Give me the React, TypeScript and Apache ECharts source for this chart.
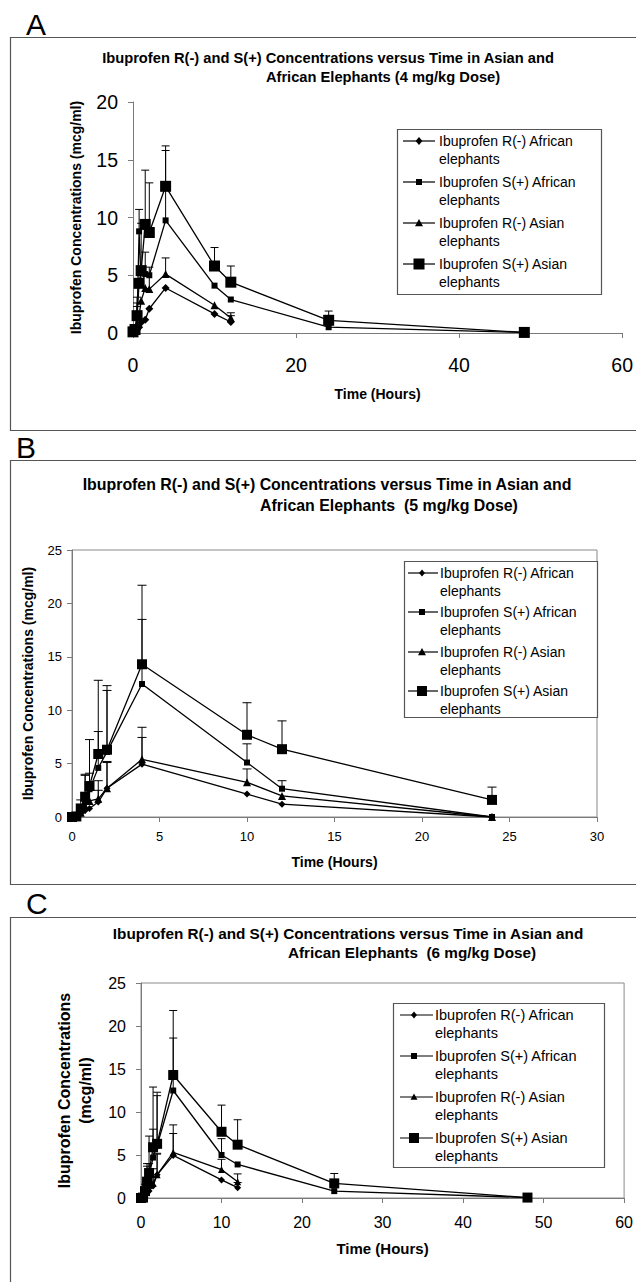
import React, { useEffect, useRef } from "react";
import * as echarts from "echarts";

const FONT = "'Liberation Sans', Arial, Helvetica, sans-serif";

// ---------- DATA ----------
const legendLine1 = [
  "Ibuprofen R(-) African",
  "Ibuprofen S(+) African",
  "Ibuprofen R(-) Asian",
  "Ibuprofen S(+) Asian",
];
const legendLine2 = ["elephants", "elephants", "elephants", "elephants"];

// Panel A (4 mg/kg)
const hoursA = [0, 0.25, 0.5, 0.75, 1, 1.5, 2, 4, 10, 12, 24, 48];
const rAfrA = [0, 0.1, 0.3, 0.5, 0.9, 1.15, 2.1, 3.9, 1.65, 0.95];
const sAfrA = [0, 0.4, 1.3, 8.8, 4.2, 5.1, 5.0, 9.75, 4.1, 2.9, 0.5, 0.05];
const rAsiA = [0, 0.2, 0.7, 1.5, 2.8, 3.9, 3.8, 5.1, 2.4, 1.3];
const sAsiA = [0.1, 0.3, 1.5, 4.3, 5.4, 9.4, 8.7, 12.7, 5.8, 4.4, 1.1, 0.05];
const rAfrAUp = [null, null, 2.6, null, null, null, null, null, null, 1.5];
const sAfrAUp = [null, null, 3.1, 10.7, null, 7.0, null, 15.8, null, null, null, null];
const rAsiAUp = [null, null, null, null, null, null, 5.7, 6.5, null, 1.75];
const sAsiAUp = [null, null, 2.3, null, 9.5, 14.1, 13.0, 16.2, 7.4, 5.8, 1.9, null];

// Panel B (5 mg/kg)
const hoursB = [0, 0.25, 0.5, 0.75, 1, 1.5, 2, 4, 10, 12, 24];
const rAfrB = [0, 0.05, 0.3, 0.6, 0.8, 1.4, 2.7, 4.95, 2.15, 1.2, 0];
const sAfrB = [0, 0.1, 0.6, 1.5, 2.6, 4.6, 6.1, 12.45, 5.1, 2.65, 0];
const rAsiB = [0, 0.1, 0.4, 1.0, 1.5, 1.7, 2.7, 5.4, 3.25, 1.97, 0];
const sAsiB = [0, 0.05, 0.8, 1.9, 2.9, 5.9, 6.3, 14.3, 7.7, 6.35, 1.6];
const rAfrBUp = [null, null, null, null, null, 2.5, 5.1, 7.45, null, null, null];
const sAfrBUp = [null, null, null, 3.9, 4.1, 8.0, 11.85, 18.5, 6.85, 3.4, null];
const rAsiBUp = [null, null, null, null, null, 3.4, 5.2, 8.4, 4.5, null, null];
const sAsiBUp = [null, null, 1.6, 4.0, 7.25, 12.8, 12.3, 21.7, 10.7, 9.0, 2.8];

// Panel C (6 mg/kg)
const hoursC = [0, 0.25, 0.5, 0.75, 1, 1.5, 2, 4, 10, 12, 24, 48];
const rAfrC = [0, 0.05, 0.3, 0.6, 0.8, 1.4, 2.7, 4.95, 2.1, 1.2];
const sAfrC = [0, 0.1, 0.6, 1.5, 2.6, 4.7, 6.1, 12.5, 5.0, 3.9, 0.8, 0.05];
const rAsiC = [0, 0.1, 0.4, 1.0, 1.5, 1.7, 2.7, 5.3, 3.3, 1.9];
const sAsiC = [0, 0.05, 0.8, 1.9, 2.9, 5.9, 6.3, 14.3, 7.7, 6.2, 1.7, 0.05];
const rAfrCUp = [null, null, null, null, null, 2.5, 5.1, 7.5, null, 1.8];
const sAfrCUp = [null, null, null, 3.7, 4.0, 8.0, 11.9, 18.6, 6.9, null, null, null];
const rAsiCUp = [null, null, null, null, null, 3.4, 5.2, 8.5, 4.5, 2.8];
const sAsiCUp = [null, null, 1.6, 4.0, 7.2, 12.9, 12.3, 21.8, 10.8, 9.1, 2.85, null];

// ---------- LAYOUT / STYLE ----------
const symbols = ["diamond", "rect", "triangle", "rect"];

const panels = [
  {
    letter: "A", letterX: 26, letterY: 9,
    boxTop: 37, boxBottom: 430,
    title1: "Ibuprofen R(-) and S(+) Concentrations versus Time in Asian and",
    title2: "African Elephants (4 mg/kg Dose)",
    t1x: 328, t1y: 58, t2x: 383, t2y: 77, titleSize: 14.7,
    grid: { left: 133, top: 102, width: 492, height: 231 },
    frame: false,
    xMax: 60, xInt: 20, yMax: 20, yInt: 5,
    tickSize: 19.5, xMargin: 22, yMargin: 15,
    xNameGap: 54, xNameSize: 14,
    yName: "Ibuprofen Concentrations (mcg/ml)", yNameGap: 48, yNameSize: 14,
    symSizes: [8, 6, 8, 11], capW: 8,
    leg: { x1: 397, y1: 129, x2: 601, y2: 294, textX: 439, lineX1: 403, lineX2: 435, markX: 419, rows: [141, 182, 223, 264], lh: 17.5, fs: 14 },
    hours: hoursA,
    vals: [rAfrA, sAfrA, rAsiA, sAsiA],
    ups: [rAfrAUp, sAfrAUp, rAsiAUp, sAsiAUp],
  },
  {
    letter: "B", letterX: 16, letterY: 432,
    boxTop: 460, boxBottom: 884,
    title1: "Ibuprofen R(-) and S(+) Concentrations versus Time in Asian and",
    title2: "African Elephants  (5 mg/kg Dose)",
    t1x: 327, t1y: 484, t2x: 389, t2y: 505, titleSize: 15.9,
    grid: { left: 72, top: 550, width: 525, height: 267 },
    frame: true,
    xMax: 30, xInt: 5, yMax: 25, yInt: 5,
    tickSize: 13, xMargin: 13, yMargin: 10,
    xNameGap: 38, xNameSize: 14,
    yName: "Ibuprofen Concentrations (mcg/ml)", yNameGap: 32, yNameSize: 14,
    symSizes: [7, 6, 8, 10], capW: 9,
    leg: { x1: 404, y1: 561, x2: 597, y2: 717, textX: 440, lineX1: 408, lineX2: 438, markX: 422, rows: [573, 612, 652, 691], lh: 17.5, fs: 14 },
    hours: hoursB,
    vals: [rAfrB, sAfrB, rAsiB, sAsiB],
    ups: [rAfrBUp, sAfrBUp, rAsiBUp, sAsiBUp],
  },
  {
    letter: "C", letterX: 26, letterY: 888,
    boxTop: 917, boxBottom: 1300,
    title1: "Ibuprofen R(-) and S(+) Concentrations versus Time in Asian and",
    title2: "African Elephants  (6 mg/kg Dose)",
    t1x: 348, t1y: 933, t2x: 412, t2y: 952, titleSize: 15.3,
    grid: { left: 141, top: 983, width: 484, height: 215 },
    frame: true,
    xMax: 60, xInt: 10, yMax: 25, yInt: 5,
    tickSize: 16, xMargin: 16, yMargin: 15,
    xNameGap: 43, xNameSize: 15,
    yName: "Ibuprofen Concentrations\n(mcg/ml)", yNameGap: 45, yNameSize: 16,
    symSizes: [7, 6, 7, 10], capW: 8,
    leg: { x1: 393, y1: 1003, x2: 604, y2: 1167, textX: 435, lineX1: 400, lineX2: 433, markX: 414, rows: [1015, 1056, 1097, 1138], lh: 18, fs: 14.5 },
    hours: hoursC,
    vals: [rAfrC, sAfrC, rAsiC, sAsiC],
    ups: [rAfrCUp, sAfrCUp, rAsiCUp, sAsiCUp],
  },
];

function markerShape(kind: number, cx: number, cy: number, size: number) {
  const h = size / 2;
  if (kind === 0) {
    return { type: "polygon", z: 101, shape: { points: [[cx, cy - h], [cx + h * 0.85, cy], [cx, cy + h], [cx - h * 0.85, cy]] }, style: { fill: "#000" } };
  }
  if (kind === 2) {
    return { type: "polygon", z: 101, shape: { points: [[cx, cy - h], [cx + h, cy + h * 0.8], [cx - h, cy + h * 0.8]] }, style: { fill: "#000" } };
  }
  return { type: "rect", z: 101, shape: { x: cx - h, y: cy - h, width: size, height: size }, style: { fill: "#000" } };
}

function buildOption() {
  const grid: any[] = [];
  const xAxis: any[] = [];
  const yAxis: any[] = [];
  const series: any[] = [];
  const graphic: any[] = [];

  panels.forEach((p, i) => {
    grid.push({
      ...p.grid,
      show: p.frame,
      borderColor: "#8a8a8a",
      borderWidth: 1,
      backgroundColor: "transparent",
      containLabel: false,
    });
    const axisLine = { show: true, lineStyle: { color: "#7a7a7a", width: 1 } };
    const axisTick = { show: true, length: 5, lineStyle: { color: "#7a7a7a", width: 1 } };
    xAxis.push({
      gridIndex: i, type: "value", min: 0, max: p.xMax, interval: p.xInt,
      name: "Time (Hours)", nameLocation: "middle", nameGap: p.xNameGap,
      nameTextStyle: { fontFamily: FONT, fontWeight: "bold", fontSize: p.xNameSize, color: "#000" },
      axisLine, axisTick,
      axisLabel: { fontFamily: FONT, fontSize: p.tickSize, color: "#000", margin: p.xMargin },
      splitLine: { show: false },
    });
    yAxis.push({
      gridIndex: i, type: "value", min: 0, max: p.yMax, interval: p.yInt,
      name: p.yName, nameLocation: "middle", nameGap: p.yNameGap,
      nameTextStyle: { fontFamily: FONT, fontWeight: "bold", fontSize: p.yNameSize, color: "#000", lineHeight: p.yNameSize * 1.3 },
      axisLine, axisTick,
      axisLabel: { fontFamily: FONT, fontSize: p.tickSize, color: "#000", margin: p.yMargin },
      splitLine: { show: false },
    });

    p.vals.forEach((vals, k) => {
      const data = vals.map((v, j) => [p.hours[j], v]);
      series.push({
        type: "line",
        name: legendLine1[k] + " " + legendLine2[k],
        xAxisIndex: i, yAxisIndex: i,
        data,
        symbol: symbols[k],
        symbolSize: p.symSizes[k],
        showAllSymbol: true,
        itemStyle: { color: "#000" },
        lineStyle: { color: "#000", width: 1.3 },
        z: 3,
      });
      const ups = p.ups[k];
      const errData: any[] = [];
      ups.forEach((u, j) => {
        if (u !== null && u !== undefined && j < vals.length) errData.push([p.hours[j], vals[j], u]);
      });
      const capW = p.capW;
      series.push({
        type: "custom",
        name: "err-" + i + "-" + k,
        xAxisIndex: i, yAxisIndex: i,
        data: errData,
        encode: { x: 0, y: [1, 2] },
        z: 2,
        renderItem: (params: any, api: any) => {
          const x = api.value(0), y = api.value(1), u = api.value(2);
          const p0 = api.coord([x, y]);
          const p1 = api.coord([x, u]);
          const st = { stroke: "#000", lineWidth: 1 };
          return {
            type: "group",
            children: [
              { type: "line", shape: { x1: p0[0], y1: p0[1], x2: p1[0], y2: p1[1] }, style: st },
              { type: "line", shape: { x1: p1[0] - capW / 2, y1: p1[1], x2: p1[0] + capW / 2, y2: p1[1] }, style: st },
            ],
          };
        },
      });
    });

    // panel letter
    graphic.push({
      type: "text", x: p.letterX, y: p.letterY, z: 50,
      style: { text: p.letter, fontFamily: FONT, fontSize: 30, fill: "#000", textVerticalAlign: "top" },
    });
    // panel border
    graphic.push({
      type: "rect", z: 50, silent: true,
      shape: { x: 10.5, y: p.boxTop + 0.5, width: 660, height: p.boxBottom - p.boxTop },
      style: { fill: "none", stroke: "#555", lineWidth: 1.2 },
    });
    // titles
    graphic.push({
      type: "text", x: p.t1x, y: p.t1y, z: 50,
      style: { text: p.title1, fontFamily: FONT, fontWeight: "bold", fontSize: p.titleSize, fill: "#000", textAlign: "center", textVerticalAlign: "middle" },
    });
    graphic.push({
      type: "text", x: p.t2x, y: p.t2y, z: 50,
      style: { text: p.title2, fontFamily: FONT, fontWeight: "bold", fontSize: p.titleSize, fill: "#000", textAlign: "center", textVerticalAlign: "middle" },
    });
    // legend
    const L = p.leg;
    graphic.push({
      type: "rect", z: 100,
      shape: { x: L.x1 + 0.5, y: L.y1 + 0.5, width: L.x2 - L.x1, height: L.y2 - L.y1 },
      style: { fill: "#fff", stroke: "#555", lineWidth: 1.2 },
    });
    L.rows.forEach((ry, k) => {
      graphic.push({
        type: "line", z: 101,
        shape: { x1: L.lineX1, y1: ry, x2: L.lineX2, y2: ry },
        style: { stroke: "#000", lineWidth: 1.2 },
      });
      graphic.push(markerShape(k, L.markX, ry, p.symSizes[k]));
      graphic.push({
        type: "text", x: L.textX, y: ry, z: 101,
        style: { text: legendLine1[k], fontFamily: FONT, fontSize: L.fs, fill: "#000", textVerticalAlign: "middle" },
      });
      graphic.push({
        type: "text", x: L.textX, y: ry + L.lh, z: 101,
        style: { text: legendLine2[k], fontFamily: FONT, fontSize: L.fs, fill: "#000", textVerticalAlign: "middle" },
      });
    });
  });

  return {
    animation: false,
    backgroundColor: "#fff",
    textStyle: { fontFamily: FONT },
    grid, xAxis, yAxis, series, graphic,
  };
}

export default function App() {
  const ref = useRef<HTMLDivElement>(null);
  useEffect(() => {
    document.body.style.margin = "0";
    if (!ref.current) return;
    const chart = echarts.init(ref.current, undefined, { renderer: "svg" });
    chart.setOption(buildOption() as any);
    return () => chart.dispose();
  }, []);
  return <div ref={ref} style={{ width: 636, height: 1282, background: "#fff" }} />;
}
